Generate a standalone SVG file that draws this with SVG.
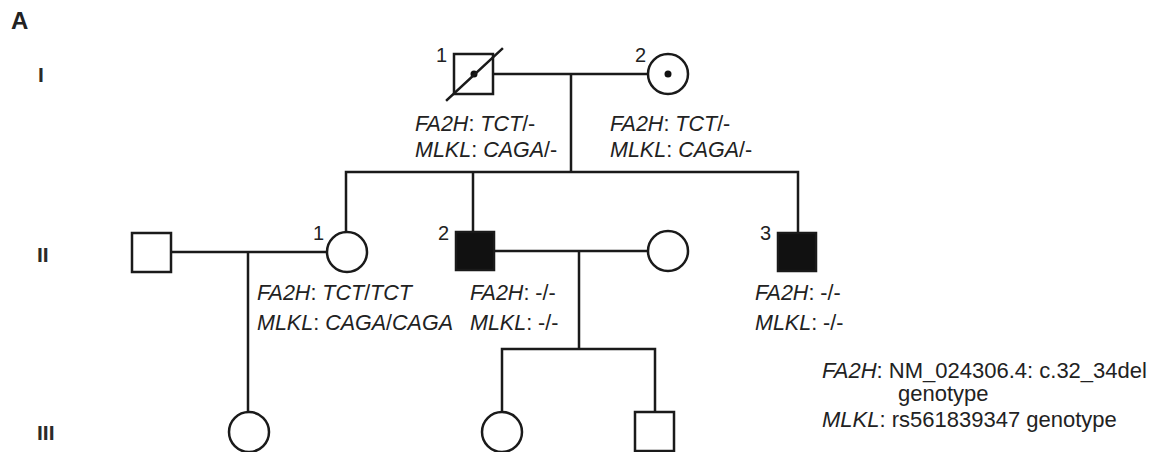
<svg xmlns="http://www.w3.org/2000/svg" width="1151" height="452" viewBox="0 0 1151 452">
<style>
.ln{stroke:#1a1a1a;stroke-width:2.5;fill:none;stroke-linecap:square}
.sym{stroke:#1a1a1a;stroke-width:2.5;fill:#fff}
.aff{stroke:#1a1a1a;stroke-width:2.5;fill:#111}
text{font-family:"Liberation Sans",Arial,sans-serif;fill:#222;font-size:21.5px}
.num{font-size:20px}
.gen{font-size:21px;font-weight:bold;fill:#2a2a2a}
.i{font-style:italic}
</style>
<rect width="1151" height="452" fill="#fff"/>
<text x="11" y="29" style="font-weight:bold;font-size:24px">A</text>
<text class="gen" x="38" y="82">I</text>
<text class="gen" x="37" y="262">II</text>
<text class="gen" x="37" y="440">III</text>
<g id="connectors">
<path class="ln" d="M493 74H648M571 74V172M346 172H798M346 172V232M473 172V232M798 172V233"/>
<path class="ln" d="M171 252H327M248 252V412"/>
<path class="ln" d="M494 251H648M579 251V349M502 349H655M502 349V412M655 349V412"/>
</g>
<g id="I-1">
<rect class="sym" x="454" y="54" width="39" height="40"/>
<circle cx="474" cy="74" r="3.5" fill="#111"/>
<line class="ln" x1="447" y1="100" x2="502" y2="49"/>
<text class="num" x="436" y="62">1</text>
</g>
<g id="I-2">
<circle class="sym" cx="668" cy="74" r="20"/>
<circle cx="668" cy="74" r="3.5" fill="#111"/>
<text class="num" x="635" y="62">2</text>
</g>
<g id="I-1-geno">
<text x="415" y="131"><tspan class="i">FA2H</tspan>: <tspan class="i">TCT</tspan>/-</text>
<text x="415" y="157"><tspan class="i">MLKL</tspan>: <tspan class="i">CAGA</tspan>/-</text>
</g>
<g id="I-2-geno">
<text x="610" y="131"><tspan class="i">FA2H</tspan>: <tspan class="i">TCT</tspan>/-</text>
<text x="610" y="157"><tspan class="i">MLKL</tspan>: <tspan class="i">CAGA</tspan>/-</text>
</g>
<g id="II-spouse1">
<rect class="sym" x="132" y="233" width="39" height="39"/>
</g>
<g id="II-1">
<circle class="sym" cx="347" cy="252" r="20"/>
<text class="num" x="313" y="240">1</text>
<text x="257" y="300"><tspan class="i">FA2H</tspan>: <tspan class="i">TCT</tspan>/<tspan class="i">TCT</tspan></text>
<text x="257" y="330"><tspan class="i">MLKL</tspan>: <tspan class="i">CAGA</tspan>/<tspan class="i">CAGA</tspan></text>
</g>
<g id="II-2">
<rect class="aff" x="456" y="232" width="38" height="38"/>
<text class="num" x="438" y="240">2</text>
<text x="470" y="300"><tspan class="i">FA2H</tspan>: -/-</text>
<text x="470" y="330"><tspan class="i">MLKL</tspan>: -/-</text>
</g>
<g id="II-spouse2">
<circle class="sym" cx="668" cy="251" r="20"/>
</g>
<g id="II-3">
<rect class="aff" x="778" y="233" width="38" height="38"/>
<text class="num" x="760" y="240">3</text>
<text x="755" y="300"><tspan class="i">FA2H</tspan>: -/-</text>
<text x="755" y="330"><tspan class="i">MLKL</tspan>: -/-</text>
</g>
<g id="III-1"><circle class="sym" cx="249" cy="432" r="20"/></g>
<g id="III-2"><circle class="sym" cx="502" cy="432" r="20"/></g>
<g id="III-3"><rect class="sym" x="635" y="412" width="39" height="39"/></g>
<g id="legend">
<text x="822" y="378" style="font-size:22px"><tspan class="i">FA2H</tspan>: NM_024306.4: c.32_34del</text>
<text x="898" y="401" style="font-size:22px">genotype</text>
<text x="822" y="427" style="font-size:22px"><tspan class="i">MLKL</tspan>: rs561839347 genotype</text>
</g>
</svg>
